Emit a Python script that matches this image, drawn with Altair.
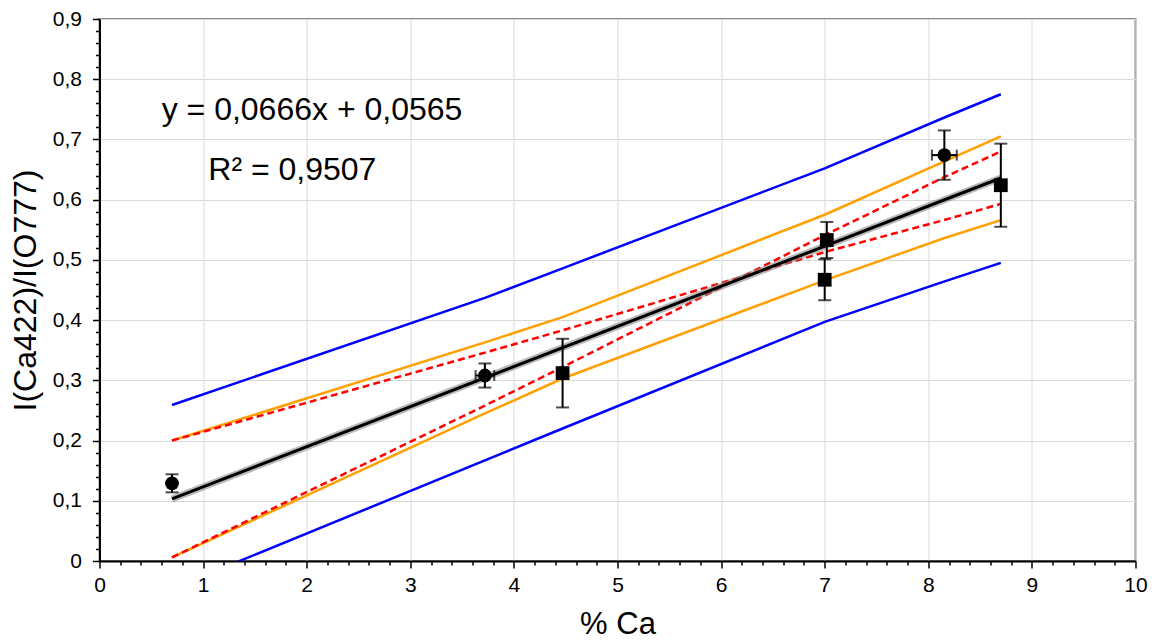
import altair as alt
import pandas as pd

# measured points
pt_x = [0.70, 3.72, 4.47, 7.02, 7.00, 8.155, 8.70]
pt_y = [0.129, 0.308, 0.312, 0.533, 0.467, 0.674, 0.624]
pt_yerr = [0.015, 0.020, 0.057, 0.030, 0.034, 0.041, 0.069]
pt_xerr = [0.0, 0.09, 0.0, 0.0, 0.0, 0.12, 0.0]
pt_shape = ["circle", "circle", "square", "square", "square", "circle", "square"]

# band curves (read at the data x positions)
band_x = [0.7, 3.72, 4.47, 7.0, 8.15, 8.7]
blue_upper = [0.259, 0.437, 0.486, 0.652, 0.736, 0.775]
blue_lower = [-0.046, 0.167, 0.220, 0.397, 0.464, 0.495]
orange_upper = [0.200, 0.363, 0.405, 0.575, 0.663, 0.705]
orange_lower = [0.006, 0.245, 0.303, 0.466, 0.536, 0.566]
red_a = [0.200, 0.346, 0.383, 0.513, 0.566, 0.593]
red_b = [0.006, 0.258, 0.322, 0.541, 0.637, 0.680]

# regression line
fit_x = [0.7, 8.7]
fit_y = [0.103, 0.636]

eq_text = ["y = 0,0666x + 0,0565", "R² = 0,9507"]
eq_x = [0.60, 1.05]
eq_y = [0.732, 0.632]

x_ticks = [round(i * 0.2, 1) for i in range(51)]
y_ticks = [round(i * 0.02, 2) for i in range(46)]

FONT = "Liberation Sans"

xs = alt.Scale(domain=[0, 10], nice=False, zero=False)
ys = alt.Scale(domain=[0, 0.9], nice=False, zero=False)

x_major = "abs(datum.value - round(datum.value)) < 1e-6"
y_major = "abs(datum.value * 10 - round(datum.value * 10)) < 1e-6"

x_axis = alt.Axis(
    values=x_ticks, tickCount=200,
    labelExpr=f"{x_major} ? format(datum.value, 'd') : ''",
    tickSize={"condition": {"test": x_major, "value": 7}, "value": 4},
    gridOpacity={"condition": {"test": x_major, "value": 1}, "value": 0},
    labelOverlap=False, labelFlush=False, labelBound=False,
    labelPadding=6,
    title="% Ca", titleFontSize=31, titleFontWeight="normal",
    titleBaseline="alphabetic", titleY=72,
)
y_axis = alt.Axis(
    values=y_ticks, tickCount=200,
    labelExpr=f"{y_major} ? (datum.value < 1e-6 ? '0' : replace(format(datum.value, '.1f'), '.', ',')) : ''",
    tickSize={"condition": {"test": y_major, "value": 7}, "value": 4},
    gridOpacity={"condition": {"test": y_major, "value": 1}, "value": 0},
    labelOverlap=False, labelFlush=False, labelBound=False,
    labelPadding=11,
    title="I(Ca422)/I(O777)", titleFontSize=32, titleFontWeight="normal",
    titleBaseline="middle", titleX=-74, titleY=271,
)


def line_df(xv, yv):
    return pd.DataFrame({"x": xv, "y": yv})


def line_layer(xv, yv, color, width, dash=None, axes=False, opacity=1.0):
    kw = dict(color=color, strokeWidth=width, clip=True, opacity=opacity)
    if dash:
        kw["strokeDash"] = dash
    if axes:
        enc = dict(x=alt.X("x:Q", scale=xs, axis=x_axis), y=alt.Y("y:Q", scale=ys, axis=y_axis))
    else:
        enc = dict(x=alt.X("x:Q", scale=xs), y=alt.Y("y:Q", scale=ys))
    return alt.Chart(line_df(xv, yv)).mark_line(**kw).encode(**enc)


blue_u = line_layer(band_x, blue_upper, "#0000ff", 2.5, axes=True)
blue_l = line_layer(band_x, blue_lower, "#0000ff", 2.5)
orange_u = line_layer(band_x, orange_upper, "#ffa000", 2.5)
orange_l = line_layer(band_x, orange_lower, "#ffa000", 2.5)
red_1 = line_layer(band_x, red_a, "#ff0000", 2.5, dash=[7, 4])
red_2 = line_layer(band_x, red_b, "#ff0000", 2.5, dash=[7, 4])
fit_halo = line_layer(fit_x, fit_y, "#8a8a8a", 7, opacity=0.6)
fit_line = line_layer(fit_x, fit_y, "#000000", 3)

pts = pd.DataFrame({
    "x": pt_x, "y": pt_y, "shape": pt_shape,
    "ylo": [a - b for a, b in zip(pt_y, pt_yerr)],
    "yhi": [a + b for a, b in zip(pt_y, pt_yerr)],
    "xlo": [a - b for a, b in zip(pt_x, pt_xerr)],
    "xhi": [a + b for a, b in zip(pt_x, pt_xerr)],
    "xerr": pt_xerr,
})
pts_x = pts[pts["xerr"] > 0]

base = alt.Chart(pts)
vbar = base.mark_rule(color="black", strokeWidth=2).encode(
    x=alt.X("x:Q", scale=xs), y=alt.Y("ylo:Q", scale=ys), y2="yhi:Q")
cap_lo = base.mark_tick(color="black", orient="horizontal", size=13, thickness=2).encode(
    x=alt.X("x:Q", scale=xs), y=alt.Y("ylo:Q", scale=ys))
cap_hi = base.mark_tick(color="black", orient="horizontal", size=13, thickness=2).encode(
    x=alt.X("x:Q", scale=xs), y=alt.Y("yhi:Q", scale=ys))

basex = alt.Chart(pts_x)
hbar = basex.mark_rule(color="black", strokeWidth=2).encode(
    x=alt.X("xlo:Q", scale=xs), x2="xhi:Q", y=alt.Y("y:Q", scale=ys))
capx_lo = basex.mark_tick(color="black", orient="vertical", size=11, thickness=2).encode(
    x=alt.X("xlo:Q", scale=xs), y=alt.Y("y:Q", scale=ys))
capx_hi = basex.mark_tick(color="black", orient="vertical", size=11, thickness=2).encode(
    x=alt.X("xhi:Q", scale=xs), y=alt.Y("y:Q", scale=ys))

points = base.mark_point(filled=True, opacity=1, color="black", size=190).encode(
    x=alt.X("x:Q", scale=xs), y=alt.Y("y:Q", scale=ys),
    shape=alt.Shape("shape:N", scale=alt.Scale(domain=["circle", "square"], range=["circle", "square"]), legend=None),
)

txt = alt.Chart(pd.DataFrame({"x": eq_x, "y": eq_y, "t": eq_text})).mark_text(
    align="left", baseline="alphabetic", fontSize=32, font=FONT, color="black"
).encode(x=alt.X("x:Q", scale=xs), y=alt.Y("y:Q", scale=ys), text="t:N")

chart = alt.layer(
    blue_u, blue_l, orange_u, orange_l, red_1, red_2, fit_halo, fit_line,
    vbar, cap_lo, cap_hi, hbar, capx_lo, capx_hi, points, txt,
).properties(
    width=1036, height=542,
    autosize=alt.AutoSizeParams(type="none"),
    padding={"left": 91.5, "top": 11, "right": 12.5, "bottom": 80},
    background="white",
).configure_view(
    stroke="#8c8c8c", strokeWidth=2,
).configure_axis(
    domainColor="black", domainWidth=2,
    tickColor="black", tickWidth=1.5,
    gridColor="#d9d9d9", gridWidth=1,
    labelFont=FONT, labelFontSize=21, labelColor="black",
    titleFont=FONT, titleColor="black",
)

chart.save("out.html", embed_options={"renderer": "svg", "actions": False})
